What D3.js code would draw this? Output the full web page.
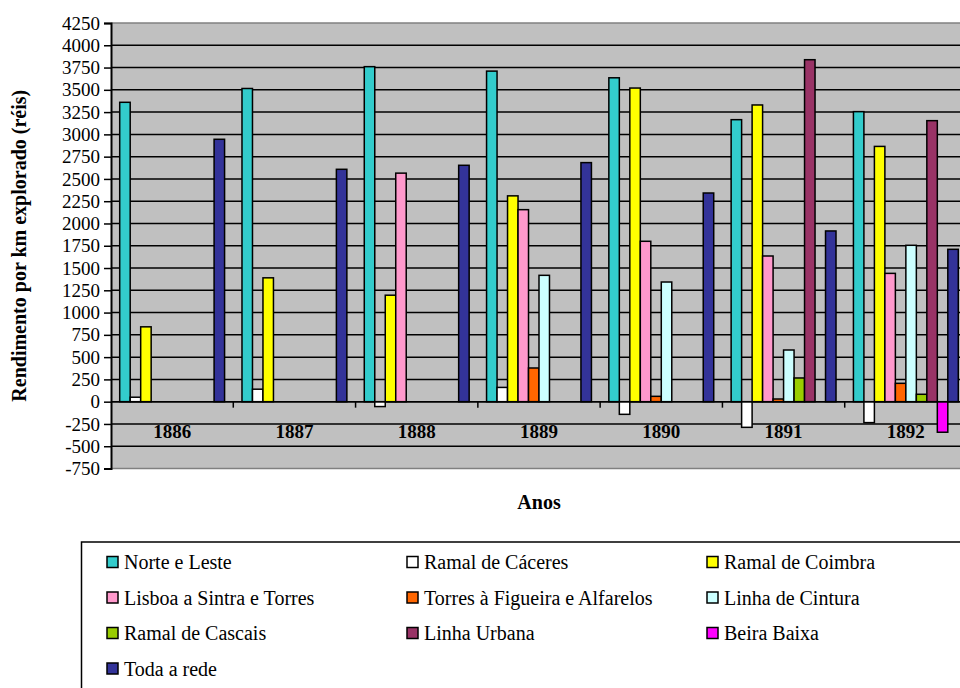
<!DOCTYPE html>
<html>
<head>
<meta charset="utf-8">
<script src="https://cdn.jsdelivr.net/npm/d3@7"></script>
<style>
  body { margin: 0; background: #fff; }
</style>
</head>
<body>
<svg id="chart" width="960" height="688"></svg>
<script>
// categories (years) and series names
var years = ["1886", "1887", "1888", "1889", "1890", "1891", "1892"];
var seriesNames = [
    "Norte e Leste", "Ramal de Cáceres", "Ramal de Coimbra",
    "Lisboa a Sintra e Torres", "Torres à Figueira e Alfarelos", "Linha de Cintura",
    "Ramal de Cascais", "Linha Urbana", "Beira Baixa",
    "Toda a rede"
];
var seriesColors = ["#33cccc", "#ffffff", "#ffff00", "#ff99cc", "#ff6600", "#ccffff",
                    "#99cc00", "#993366", "#ff00ff", "#333399"];

// rendimento por km explorado (réis), one value per year, null = no line yet
var norteLeste     = [3360, 3515, 3760, 3710, 3635, 3165, 3255];
var ramalCaceres   = [50, 140, -55, 160, -142, -288, -235];
var ramalCoimbra   = [840, 1390, 1195, 2310, 3520, 3330, 2865];
var lisboaSintra   = [null, null, 2565, 2155, 1800, 1635, 1440];
var torresFigueira = [null, null, null, 378, 60, 30, 206];
var linhaCintura   = [null, null, null, 1418, 1343, 580, 1755];
var ramalCascais   = [null, null, null, null, null, 266, 83];
var linhaUrbana    = [null, null, null, null, null, 3838, 3154];
var beiraBaixa     = [null, null, null, null, null, null, -343];
var todaRede       = [2945, 2608, 2653, 2683, 2342, 1916, 1710];

var seriesValues = [norteLeste, ramalCaceres, ramalCoimbra, lisboaSintra, torresFigueira,
                    linhaCintura, ramalCascais, linhaUrbana, beiraBaixa, todaRede];

var yTicks = [-750, -500, -250, 0, 250, 500, 750, 1000, 1250, 1500, 1750, 2000,
              2250, 2500, 2750, 3000, 3250, 3500, 3750, 4000, 4250];

var serif = "'Liberation Serif', 'Times New Roman', serif";

// plot area (runs off the right edge like the original)
var svg = d3.select("#chart"),
    plotLeft = 111, plotTop = 23, plotRight = 967, plotBottom = 468.5;

var x0 = d3.scaleBand().domain(years).range([plotLeft, plotRight]).padding(0);
var x1 = d3.scaleBand().domain(d3.range(seriesNames.length))
    .range([0, x0.bandwidth()]).paddingInner(0).paddingOuter(0.83);
var y = d3.scaleLinear().domain([-750, 4250]).range([plotBottom, plotTop]);

// background
svg.append("rect")
    .attr("x", plotLeft).attr("y", plotTop)
    .attr("width", plotRight - plotLeft).attr("height", plotBottom - plotTop)
    .attr("fill", "#c0c0c0");

// gridlines
svg.append("g")
    .selectAll("line")
    .data(yTicks.slice(1, -1))
    .enter().append("line")
    .attr("x1", plotLeft).attr("x2", plotRight)
    .attr("y1", d => y(d)).attr("y2", d => y(d))
    .attr("stroke", "#000").attr("stroke-width", 1.5);

// plot border top / bottom
svg.append("line")
    .attr("x1", plotLeft).attr("x2", plotRight).attr("y1", plotTop).attr("y2", plotTop)
    .attr("stroke", "#808080").attr("stroke-width", 1.5);
svg.append("line")
    .attr("x1", plotLeft).attr("x2", plotRight).attr("y1", plotBottom).attr("y2", plotBottom)
    .attr("stroke", "#808080").attr("stroke-width", 1.5);

// bars
var flat = [];
seriesValues.forEach(function (vals, s) {
    vals.forEach(function (v, i) {
        if (v !== null) flat.push({ year: years[i], s: s, v: v });
    });
});

svg.append("g")
    .selectAll("rect")
    .data(flat)
    .enter().append("rect")
    .attr("x", d => x0(d.year) + x1(d.s))
    .attr("y", d => y(Math.max(0, d.v)))
    .attr("width", x1.bandwidth())
    .attr("height", d => Math.abs(y(d.v) - y(0)))
    .attr("fill", d => seriesColors[d.s])
    .attr("stroke", "#000")
    .attr("stroke-width", 1.5);

// zero line with category tick marks
svg.append("line")
    .attr("x1", plotLeft).attr("x2", plotRight).attr("y1", y(0)).attr("y2", y(0))
    .attr("stroke", "#000").attr("stroke-width", 1.5);
svg.append("g")
    .selectAll("line")
    .data(years.slice(1))
    .enter().append("line")
    .attr("x1", d => x0(d)).attr("x2", d => x0(d))
    .attr("y1", y(0)).attr("y2", y(0) + 6)
    .attr("stroke", "#000").attr("stroke-width", 1.5);

// year labels
svg.append("g")
    .selectAll("text")
    .data(years)
    .enter().append("text")
    .attr("x", d => x0(d) + x0.bandwidth() / 2)
    .attr("y", y(-250) + 14)
    .attr("text-anchor", "middle")
    .style("font-family", serif)
    .style("font-size", "19px")
    .style("font-weight", "bold")
    .text(d => d);

// y axis (plain hyphen for negatives, like the original)
var yAxis = svg.append("g")
    .attr("transform", "translate(" + plotLeft + ",0)")
    .call(d3.axisLeft(y).tickValues(yTicks).tickFormat(d => String(d)).tickSize(7).tickPadding(4));
yAxis.select(".domain").attr("stroke", "#000").attr("stroke-width", 2);
yAxis.selectAll(".tick line").attr("stroke", "#000").attr("stroke-width", 1.5);
yAxis.selectAll(".tick text")
    .attr("fill", "#000")
    .style("font-family", serif)
    .style("font-size", "19px");

// axis titles
svg.append("text")
    .attr("transform", "translate(26," + ((plotTop + plotBottom) / 2) + ") rotate(-90)")
    .attr("text-anchor", "middle")
    .style("font-family", serif)
    .style("font-size", "20px")
    .style("font-weight", "bold")
    .text("Rendimento por km explorado (réis)");

svg.append("text")
    .attr("x", (plotLeft + plotRight) / 2)
    .attr("y", 509)
    .attr("text-anchor", "middle")
    .style("font-family", serif)
    .style("font-size", "20px")
    .style("font-weight", "bold")
    .text("Anos");

// legend
svg.append("rect")
    .attr("x", 81.5).attr("y", 542)
    .attr("width", 950).attr("height", 200)
    .attr("fill", "#fff")
    .attr("stroke", "#000").attr("stroke-width", 1.5);

var legend = svg.append("g")
    .selectAll("g")
    .data(seriesNames)
    .enter().append("g")
    .attr("transform", (d, i) => "translate(" + (107 + (i % 3) * 300) + "," + (562 + Math.floor(i / 3) * 35.5) + ")");

legend.append("rect")
    .attr("x", 0).attr("y", -5.5)
    .attr("width", 11).attr("height", 11)
    .attr("fill", (d, i) => seriesColors[i])
    .attr("stroke", "#000").attr("stroke-width", 1.5);

legend.append("text")
    .attr("x", 17).attr("y", 7)
    .style("font-family", serif)
    .style("font-size", "20px")
    .text(d => d);
</script>
</body>
</html>
